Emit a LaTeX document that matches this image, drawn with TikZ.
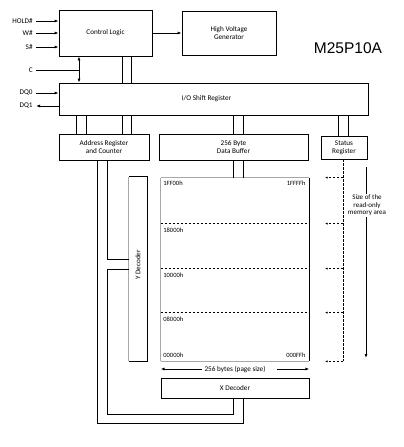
\documentclass[tikz,border=0pt]{standalone}
\usepackage{fontspec}
\setmainfont{Carlito}
\newfontfamily\titlefont{Liberation Sans}
\usetikzlibrary{arrows.meta,calc}
\definecolor{bordergray}{HTML}{A8A8A8}
\begin{document}
\begin{tikzpicture}[x=1pt,y=-1pt,line width=0.8pt,
  box/.style={draw,rectangle,inner sep=0pt,font=\fontsize{7.2}{8}\selectfont,align=center},
  txt/.style={inner sep=0pt,font=\fontsize{7.2}{8}\selectfont,align=center},
  memlbl/.style={inner sep=0pt,font=\fontsize{6.5}{7}\selectfont},
  tip/.style={-{Latex[length=4pt,width=3pt]}},
  smalltip/.style={-{Latex[length=2.5pt,width=2pt]}},
  bus/.style={line width=0.8pt},
  dashln/.style={dash pattern=on 2.5pt off 1.5pt}]
\useasboundingbox (0,0) rectangle (404,447);

% main blocks
\node[box,minimum width=93pt,minimum height=46pt] (cl) at (105.5,33) {Control Logic};
\node[box,minimum width=94pt,minimum height=44pt] (hvg) at (229,33) {High Voltage\\Generator};
\node[inner sep=0pt,font=\titlefont\fontsize{15.5}{16}\selectfont] (title) at (348,48) {M25P10A};
\node[box,minimum width=309pt,minimum height=32pt] (io) at (213.5,99) {};
\node[txt] (iotxt) at (206.5,99) {I/O Shift Register};
\node[box,minimum width=90pt,minimum height=26pt] (addr) at (104,147) {Address Register\\and Counter};
\node[box,minimum width=149pt,minimum height=26pt] (buf) at (233.5,147) {256 Byte\\Data Buffer};
\node[box,minimum width=46pt,minimum height=23pt] (stat) at (344,147.5) {Status\\Register};

% memory array
\node[inner sep=0pt,minimum width=148pt,minimum height=183pt] (mem) at (235,269.5) {};
\draw[bordergray,line width=1.6pt] (mem.north west) -- (mem.north east);
\draw[bordergray,line width=1.6pt] (mem.south west) -- (mem.south east);
\draw[bordergray] (mem.north west) -- (mem.south west);
\draw (mem.north east) -- (mem.south east);
\draw[dashln] ([yshift=-46pt]mem.north west) coordinate (d1) -- ([yshift=-46pt]mem.north east);
\draw[dashln] ([yshift=-91pt]mem.north west) coordinate (d2) -- ([yshift=-91pt]mem.north east);
\draw[dashln] ([yshift=-135pt]mem.north west) coordinate (d3) -- ([yshift=-135pt]mem.north east);

\node[memlbl,anchor=west] (m1) at (163,183) {1FF00h};
\node[memlbl,anchor=east] (m2) at (306,183) {1FFFFh};
\node[memlbl,anchor=west] (m3) at (163,230) {18000h};
\node[memlbl,anchor=west] (m4) at (163,275) {10000h};
\node[memlbl,anchor=west] (m5) at (163,319) {08000h};
\node[memlbl,anchor=west] (m6) at (163,355) {00000h};
\node[memlbl,anchor=east] (m7) at (306,355) {000FFh};

% Y decoder
\node[inner sep=0pt,minimum width=18pt,minimum height=184pt] (ydec) at (138,269) {};
\draw (ydec.south west) -- (ydec.south east) -- (ydec.north east) -- (ydec.north west);
\draw[bordergray] (ydec.north west) -- (ydec.south west);
\node[txt,rotate=90] (ydtxt) at (138,265) {Y Decoder};

% X decoder
\node[box,minimum width=148pt,minimum height=20pt] (xdec) at (235,388) {X Decoder};

% page size
\node[txt] (ps) at (235,369) {256 bytes (page size)};
\draw[tip] ([xshift=-2pt]ps.west) -- (ps.west -| mem.west);
\draw[tip] ([xshift=11pt]ps.east) -- (ps.east -| mem.east);

% inputs
\node[txt,anchor=east] (hold) at (33,21) {HOLD\#};
\node[txt,anchor=east] (w) at (33,33) {W\#};
\node[txt,anchor=east] (s) at (33,47) {S\#};
\node[txt,anchor=east] (c) at (33,70) {C};
\node[txt,anchor=east] (dq0) at (33,93) {DQ0};
\node[txt,anchor=east] (dq1) at (33,106) {DQ1};
\draw[tip] ([xshift=3pt]hold.east) -- (hold.east -| cl.west);
\draw[tip] ([xshift=3pt]w.east) -- (w.east -| cl.west);
\draw[tip] ([xshift=3pt]s.east) -- (s.east -| cl.west);
\draw[tip] ([xshift=3pt]dq0.east) -- (dq0.east -| io.west);
\draw[tip] (dq1.east -| io.west) -- ([xshift=3pt]dq1.east);
\draw[{Latex[length=4pt,width=3pt]}-{Latex[length=4pt,width=3pt]}] ([xshift=-26.5pt]cl.south) coordinate (ctop) -- (ctop |- io.north);
\draw ([xshift=3pt]c.east) -- (c.east -| ctop);

\draw[tip] (cl.east) -- (hvg.west);

% buses
\foreach \dx in {16.5,25.5}
  \draw[bus] ([xshift=\dx pt]cl.south) -- ([xshift=\dx pt]cl.south |- io.north);
\foreach \dx in {-28,-18,18,27}
  \draw[bus] ([xshift=\dx pt]addr.north) -- ([xshift=\dx pt]addr.north |- io.south);
\foreach \dx in {-0.5,9.5}
  \draw[bus] ([xshift=\dx pt]buf.north) -- ([xshift=\dx pt]buf.north |- io.south);
\foreach \dx in {-0.5,9.5}
  \draw[bus] ([xshift=\dx pt]buf.south) -- ([xshift=\dx pt]buf.south |- mem.north);
\foreach \dx in {-6,4}
  \draw[bus] ([xshift=\dx pt]stat.north) -- ([xshift=\dx pt]stat.north |- io.south);

% address bus to decoders
\coordinate (abL) at ([xshift=-7pt]addr.south);
\coordinate (abR) at ([xshift=3pt]addr.south);
\draw[bus] (abL) |- ([xshift=8pt,yshift=-25pt]xdec.south) -- ([xshift=8pt]xdec.south);
\draw[bus] (abR) |- ([yshift=10pt]ydec.west);
\draw[bus] (ydec.west) -- (ydec.west -| abR) |- ([xshift=-2pt,yshift=-16pt]xdec.south) -- ([xshift=-2pt]xdec.south);

% status register read-only area
\draw[dashln] ([xshift=-1pt]stat.south) coordinate (sv) -- (sv |- mem.south);
\foreach \p in {mem.north,d1,d2,d3,mem.south}
  \draw[dashln,smalltip] (sv |- \p) -- ++(-18,0);
\coordinate (szTop) at (366,167);
\coordinate (szBot) at (366,358);
\draw[tip] (szTop) -- (szBot);
\node[fill=white,inner sep=1pt,align=center,font=\fontsize{7}{7.4}\selectfont] (sizetxt) at (367,205.5) {Size of the\\read-only\\memory area};
\end{tikzpicture}
\end{document}
